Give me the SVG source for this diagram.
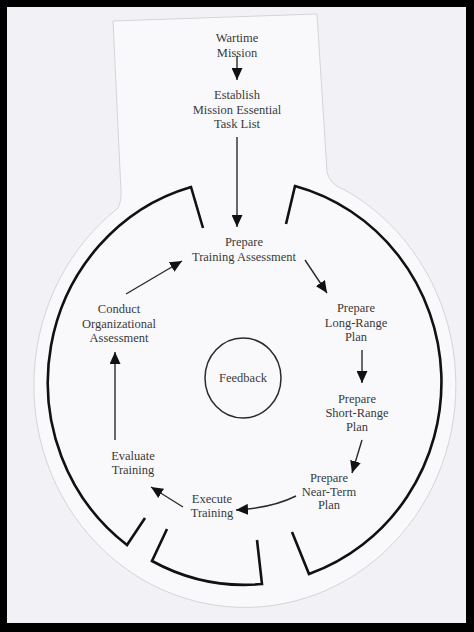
<svg xmlns="http://www.w3.org/2000/svg" width="474" height="632" viewBox="0 0 474 632">
  <defs>
    <style>
      .t { font-family: "Liberation Serif", "Times New Roman", serif; font-size: 12.5px; fill: #3a3a3a; text-anchor: middle; }
      .c { fill: none; stroke: #2a2a2a; stroke-width: 1.4; marker-end: url(#ah); }
      .ring { fill: none; stroke: #111; stroke-width: 2.6; stroke-linejoin: miter; }
    </style>
    <marker id="ah" markerUnits="userSpaceOnUse" markerWidth="12" markerHeight="11" refX="12" refY="5.5" orient="auto">
      <path d="M0,0 L12,5.5 L0,11 z" fill="#111"/>
    </marker>
  </defs>

  <rect x="0" y="0" width="474" height="632" fill="#000"/>
  <rect x="7" y="7" width="459" height="616" fill="#f1f1f6"/>

  <path id="paper" d="M113,21 L121,192 Q121,203 118,208 A211 222 0 1 0 345,190 Q330,185 327,172 L317,14 Z" fill="#f9f9fc" stroke="#d4d4da" stroke-width="1"/>

  <g id="ring">
    <path class="ring" d="M203,228 L191,187 A197 203 0 0 0 127,545 L145,518"/>
    <path class="ring" d="M167,529 L152,561 A197 203 0 0 0 262,584 L257,540"/>
    <path class="ring" d="M292,532 L309,574 A197 203 0 0 0 295,186 L286,224"/>
  </g>

  <g id="connectors">
    <line class="c" x1="237" y1="56" x2="237" y2="80"/>
    <line class="c" x1="237" y1="137" x2="237" y2="227"/>
    <line class="c" x1="305" y1="260" x2="327" y2="293"/>
    <line class="c" x1="362" y1="350" x2="362" y2="383"/>
    <line class="c" x1="362" y1="440" x2="352" y2="473"/>
    <path class="c" d="M296,496 Q272,508 236,510"/>
    <line class="c" x1="183" y1="507" x2="151" y2="487"/>
    <line class="c" x1="115" y1="440" x2="115" y2="352"/>
    <line class="c" x1="126" y1="294" x2="182" y2="261"/>
  </g>

  <g id="wartime-mission">
    <text class="t" x="237" y="42">Wartime</text>
    <text class="t" x="237" y="57">Mission</text>
  </g>
  <g id="establish-metl">
    <text class="t" x="237" y="99">Establish</text>
    <text class="t" x="237" y="113.5">Mission Essential</text>
    <text class="t" x="237" y="128">Task List</text>
  </g>
  <g id="prepare-training-assessment">
    <text class="t" x="244" y="246">Prepare</text>
    <text class="t" x="244" y="260.5">Training Assessment</text>
  </g>
  <g id="prepare-long-range-plan">
    <text class="t" x="356" y="312">Prepare</text>
    <text class="t" x="356" y="326.5">Long-Range</text>
    <text class="t" x="356" y="341">Plan</text>
  </g>
  <g id="prepare-short-range-plan">
    <text class="t" x="357" y="403">Prepare</text>
    <text class="t" x="357" y="417">Short-Range</text>
    <text class="t" x="357" y="431">Plan</text>
  </g>
  <g id="prepare-near-term-plan">
    <text class="t" x="329" y="482">Prepare</text>
    <text class="t" x="329" y="495.5">Near-Term</text>
    <text class="t" x="329" y="509">Plan</text>
  </g>
  <g id="execute-training">
    <text class="t" x="212" y="503">Execute</text>
    <text class="t" x="212" y="517">Training</text>
  </g>
  <g id="evaluate-training">
    <text class="t" x="133" y="460">Evaluate</text>
    <text class="t" x="133" y="474">Training</text>
  </g>
  <g id="conduct-organizational-assessment">
    <text class="t" x="119" y="313">Conduct</text>
    <text class="t" x="119" y="327.5">Organizational</text>
    <text class="t" x="119" y="342">Assessment</text>
  </g>
  <g id="feedback">
    <ellipse cx="243" cy="378" rx="38" ry="40" fill="none" stroke="#2a2a2a" stroke-width="1.5"/>
    <text class="t" x="243" y="382">Feedback</text>
  </g>
</svg>
